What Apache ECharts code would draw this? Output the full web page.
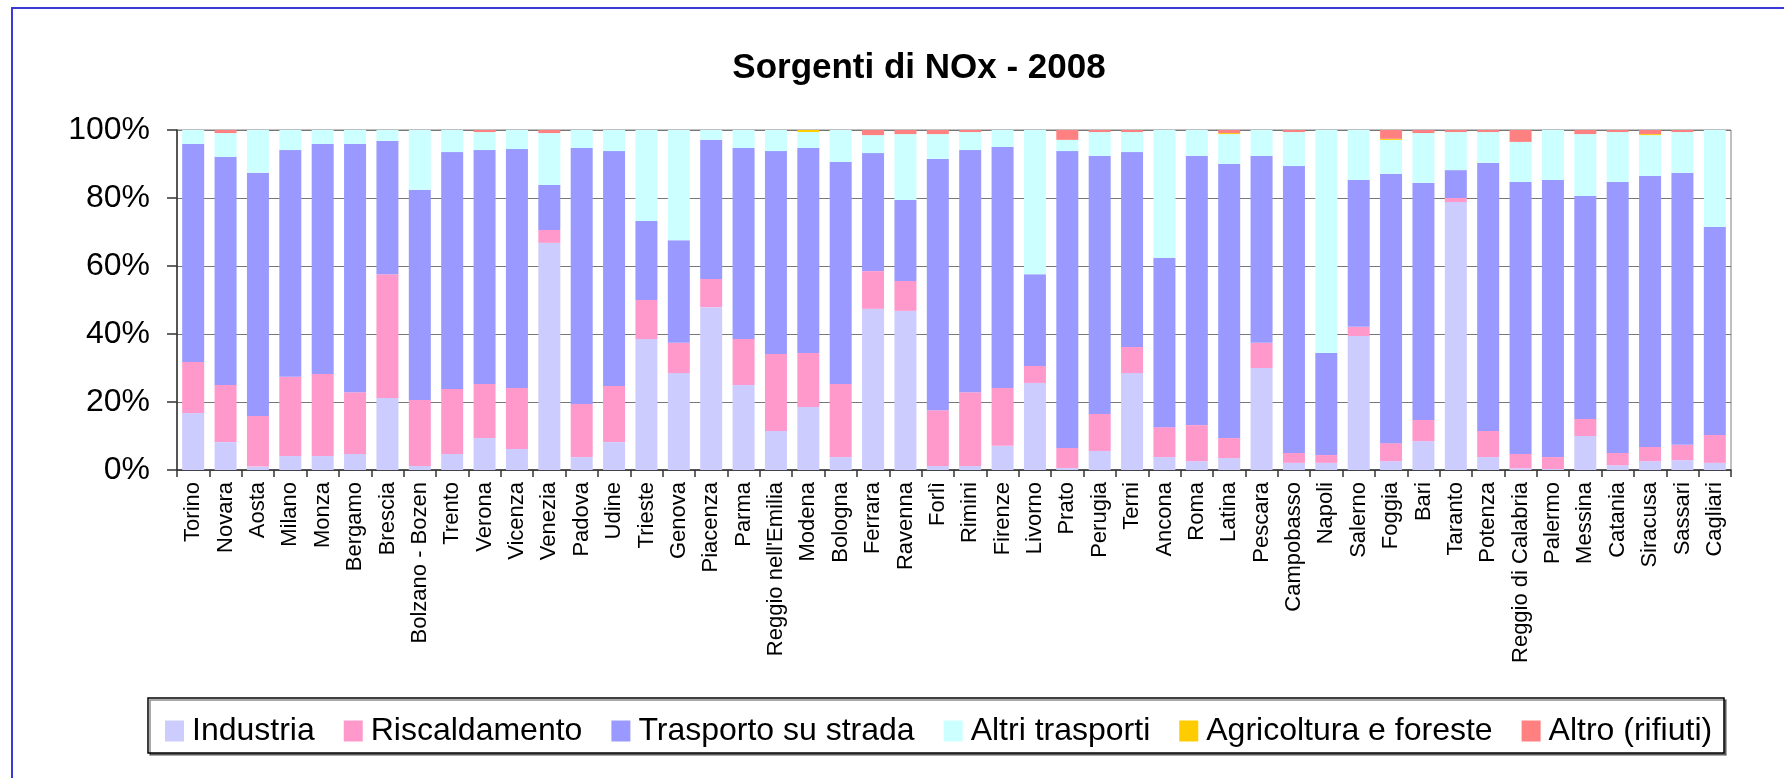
<!DOCTYPE html>
<html>
<head>
<meta charset="utf-8">
<script src="https://cdn.jsdelivr.net/npm/echarts@6/dist/echarts.min.js"></script>
<style>
html,body{margin:0;padding:0;background:#fff;}
#c{width:1784px;height:778px;}
</style>
</head>
<body>
<div id="c"></div>
<script>
const categories = ["Torino","Novara","Aosta","Milano","Monza","Bergamo","Brescia","Bolzano - Bozen","Trento","Verona","Vicenza","Venezia","Padova","Udine","Trieste","Genova","Piacenza","Parma","Reggio nell'Emilia","Modena","Bologna","Ferrara","Ravenna","Forlì","Rimini","Firenze","Livorno","Prato","Perugia","Terni","Ancona","Roma","Latina","Pescara","Campobasso","Napoli","Salerno","Foggia","Bari","Taranto","Potenza","Reggio di Calabria","Palermo","Messina","Catania","Siracusa","Sassari","Cagliari"];

const industria = [16.8,8.2,1.0,4.1,4.1,4.7,21.2,1.2,4.7,9.4,6.2,66.8,3.8,8.2,38.5,28.5,47.9,25.0,11.5,18.5,3.8,47.4,46.8,1.2,1.2,7.1,25.6,0.6,5.6,28.5,3.8,2.6,3.5,30.0,2.1,2.1,39.4,2.6,8.5,78.8,3.8,0.5,0.3,10.0,1.4,2.6,2.9,2.1];
const riscaldamento = [15.0,16.8,14.9,23.3,24.1,18.2,36.4,19.4,19.1,15.9,17.9,3.8,15.6,16.5,11.5,8.9,8.3,13.5,22.6,15.9,21.5,11.1,8.8,16.4,21.7,17.0,5.0,5.9,10.9,7.7,8.8,10.6,5.9,7.4,2.9,2.3,2.7,5.3,6.2,1.2,7.7,4.2,3.5,5.0,3.6,4.2,4.5,8.2];
const trasportoStrada = [64.1,67.1,71.5,66.7,67.7,73.0,39.2,61.8,69.7,68.8,70.3,13.2,75.3,69.1,23.2,30.2,40.9,56.2,59.7,60.3,65.3,34.7,23.8,73.9,71.2,70.9,27.0,87.3,75.9,57.3,49.8,79.2,80.6,55.0,84.4,30.0,43.2,79.2,69.7,8.2,78.8,80.0,81.5,65.6,79.7,79.7,80.0,61.2];
const altriTrasporti = [4.1,7.0,12.6,5.9,4.1,4.1,3.2,17.6,6.5,5.3,5.6,15.3,5.3,6.2,26.8,32.4,2.9,5.3,6.2,4.7,9.4,5.3,19.4,7.3,5.3,5.0,42.4,3.3,7.0,5.9,37.6,7.6,8.8,7.6,10.0,65.6,14.7,10.0,14.7,11.2,9.1,11.8,14.7,18.2,14.7,12.0,12.0,28.5];
const agricoltura = [0,0,0,0,0,0,0,0,0,0,0,0,0,0,0,0,0,0,0,0.6,0,0,0,0,0,0,0,0,0,0,0,0,0.3,0,0,0,0,0.3,0,0,0,0,0,0,0,0.3,0,0];
const altro = [0,0.9,0,0,0,0,0,0,0,0.6,0,0.9,0,0,0,0,0,0,0,0,0,1.5,1.2,1.2,0.6,0,0,2.9,0.6,0.6,0,0,0.9,0,0.6,0,0,2.6,0.9,0.6,0.6,3.5,0,1.2,0.6,1.2,0.6,0];

const yTicks = [0,20,40,60,80,100];
const seriesNames = ["Industria","Riscaldamento","Trasporto su strada","Altri trasporti","Agricoltura e foreste","Altro (rifiuti)"];
const seriesColors = ["#CCCCFF","#FF99CC","#9999FF","#CCFFFF","#FFCC00","#FF8080"];
const seriesData = [industria, riscaldamento, trasportoStrada, altriTrasporti, agricoltura, altro];

const chart = echarts.init(document.getElementById('c'), null, {renderer:'canvas'});
const FONT = 'Arial, "Liberation Sans", sans-serif';

chart.setOption({
  animation: false,
  backgroundColor: '#fff',
  title: {
    text: 'Sorgenti di NOx - 2008',
    left: 914, top: 46, textAlign: 'center',
    textStyle: {fontSize: 35, fontWeight: 'bold', color: '#000', fontFamily: FONT}
  },
  graphic: [
    {type:'rect', z: -10, shape:{x:12, y:8, width:1800, height:800}, style:{fill:'none', stroke:'#3a3ad6', lineWidth:2}},
    {type:'rect', z: 1, shape:{x:148, y:698, width:1576, height:55}, style:{fill:'#fff', stroke:'#000', lineWidth:1.5, shadowColor:'rgba(0,0,0,0.45)', shadowOffsetX:2, shadowOffsetY:2, shadowBlur:0}}
  ],
  legend: {
    z: 10,
    left: 165, top: 715,
    padding: 0,
    itemWidth: 19, itemHeight: 21, itemGap: 29,
    icon: 'rect',
    data: seriesNames,
    textStyle: {fontSize: 32, color: '#000', fontFamily: FONT, lineHeight: 22, padding:[0,0,0,3]}
  },
  grid: {left: 177, right: 53, top: 130, bottom: 308, show: true, borderColor: '#808080', borderWidth: 1},
  xAxis: {
    type: 'category',
    data: categories,
    boundaryGap: true,
    axisLine: {show: true, lineStyle: {color: '#333', width: 1.5}},
    axisTick: {show: true, length: 7, alignWithLabel: false, lineStyle: {color: '#333', width: 1.5}},
    axisLabel: {rotate: 90, interval: 0, fontSize: 22, color: '#000', fontFamily: FONT, margin: 12}
  },
  yAxis: {
    type: 'value',
    min: yTicks[0], max: yTicks[yTicks.length-1], interval: 20,
    axisLine: {show: true, lineStyle: {color: '#333', width: 1.5}},
    axisTick: {show: true, length: 10, lineStyle: {color: '#333', width: 1.5}},
    axisLabel: {formatter: '{value}%', fontSize: 32, color: '#000', fontFamily: FONT, margin: 27},
    splitLine: {show: true, lineStyle: {color: '#777', width: 1.2}}
  },
  series: seriesNames.map((n, i) => ({
    name: n,
    type: 'bar',
    stack: 'total',
    barWidth: 22,
    data: seriesData[i],
    itemStyle: {color: seriesColors[i], borderWidth: 0},
    emphasis: {disabled: true}
  }))
});
</script>
</body>
</html>
